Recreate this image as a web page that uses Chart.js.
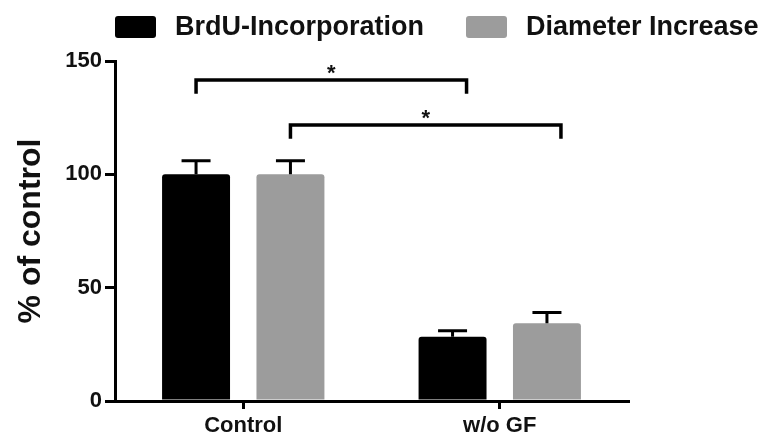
<!DOCTYPE html>
<html>
<head>
<meta charset="utf-8">
<title>BrdU / Diameter</title>
<script src="https://cdn.jsdelivr.net/npm/chart.js@4.4.1/dist/chart.umd.min.js"></script>
<style>
  body { margin: 0; background: #fff; }
  canvas { display: block; }
</style>
</head>
<body>
<canvas id="chart" width="768" height="439"></canvas>
<script>
// values
const categories = ['Control', 'w/o GF'];
const seriesNames = ['BrdU-Incorporation', 'Diameter Increase'];
const brduValues = [100, 28.4];
const brduErrors = [6, 2.6];
const diameterValues = [100, 34.3];
const diameterErrors = [6, 4.7];
const yTicks = [0, 50, 100, 150];
// significance brackets: [dataset, category] -> [dataset, category], height, label
const brackets = [
    { from: [0, 0], to: [0, 1], y: 141.6, drop: 5.3, label: '*' },
    { from: [1, 0], to: [1, 1], y: 121.8, drop: 5.3, label: '*' }
];

const FONT = "'Liberation Sans', Arial, sans-serif";
const TEXT = '#111';

// error bars (upper only) on top of each bar
const errorBars = {
    id: 'errorBars',
    afterDatasetsDraw(chart) {
        const ctx = chart.ctx;
        const y = chart.scales.y;
        ctx.save();
        ctx.strokeStyle = '#000';
        ctx.lineWidth = 3;
        chart.data.datasets.forEach((ds, i) => {
            const meta = chart.getDatasetMeta(i);
            meta.data.forEach((bar, j) => {
                const top = y.getPixelForValue(ds.data[j]);
                const end = y.getPixelForValue(ds.data[j] + ds.errors[j]);
                const half = 14.5;
                ctx.beginPath();
                ctx.moveTo(bar.x, top);
                ctx.lineTo(bar.x, end);
                ctx.moveTo(bar.x - half, end);
                ctx.lineTo(bar.x + half, end);
                ctx.stroke();
            });
        });
        ctx.restore();
    }
};

// significance brackets with asterisk
const sigBrackets = {
    id: 'sigBrackets',
    afterDraw(chart) {
        const ctx = chart.ctx;
        const y = chart.scales.y;
        ctx.save();
        ctx.strokeStyle = '#000';
        ctx.lineWidth = 3.5;
        ctx.lineCap = 'square';
        brackets.forEach(b => {
            const x1 = chart.getDatasetMeta(b.from[0]).data[b.from[1]].x;
            const x2 = chart.getDatasetMeta(b.to[0]).data[b.to[1]].x + 14;
            const yl = y.getPixelForValue(b.y);
            const yd = y.getPixelForValue(b.y - b.drop);
            ctx.beginPath();
            ctx.moveTo(x1, yd);
            ctx.lineTo(x1, yl);
            ctx.lineTo(x2, yl);
            ctx.lineTo(x2, yd);
            ctx.stroke();
            ctx.fillStyle = TEXT;
            ctx.font = 'bold 22px ' + FONT;
            ctx.textAlign = 'center';
            ctx.textBaseline = 'middle';
            ctx.fillText(b.label, (x1 + x2) / 2, yl - 6);
        });
        ctx.restore();
    }
};

// legend drawn above the plot
const topLegend = {
    id: 'topLegend',
    afterDraw(chart) {
        const ctx = chart.ctx;
        const boxes = [115, 466];
        ctx.save();
        ctx.font = 'bold 27px ' + FONT;
        ctx.textBaseline = 'middle';
        ctx.textAlign = 'left';
        chart.data.datasets.forEach((ds, i) => {
            const bx = boxes[i];
            ctx.fillStyle = ds.backgroundColor;
            ctx.beginPath();
            ctx.roundRect(bx, 16, 41, 22, 3);
            ctx.fill();
            ctx.fillStyle = TEXT;
            ctx.fillText(ds.label, bx + 60, 27.5);
        });
        ctx.restore();
    }
};

new Chart(document.getElementById('chart'), {
    type: 'bar',
    data: {
        labels: categories,
        datasets: [{
            label: seriesNames[0],
            data: brduValues,
            errors: brduErrors,
            backgroundColor: '#000000'
        }, {
            label: seriesNames[1],
            data: diameterValues,
            errors: diameterErrors,
            backgroundColor: '#9c9c9c'
        }]
    },
    options: {
        responsive: false,
        animation: false,
        layout: { padding: { top: 61, right: 140, bottom: 0, left: 0 } },
        datasets: {
            bar: {
                categoryPercentage: 0.736,
                barPercentage: 0.72,
                borderRadius: 3
            }
        },
        plugins: {
            legend: { display: false },
            tooltip: { enabled: false }
        },
        scales: {
            x: {
                afterFit(scale) { scale.height = 38; },
                border: { display: true, color: '#000', width: 3 },
                grid: {
                    drawOnChartArea: false,
                    offset: false,
                    tickLength: 8,
                    lineWidth: 3,
                    color: '#000'
                },
                ticks: {
                    color: TEXT,
                    padding: 4,
                    maxRotation: 0,
                    font: { family: FONT, size: 22, weight: 'bold' }
                }
            },
            y: {
                min: 0,
                max: 150,
                afterFit(scale) { scale.width = 115; },
                afterBuildTicks(scale) {
                    scale.ticks = yTicks.map(v => ({ value: v }));
                },
                border: { display: true, color: '#000', width: 3 },
                grid: {
                    drawOnChartArea: false,
                    tickLength: 10,
                    lineWidth: 3,
                    color: '#000'
                },
                ticks: {
                    color: TEXT,
                    padding: 3,
                    font: { family: FONT, size: 22, weight: 'bold' }
                },
                title: {
                    display: true,
                    text: '% of control',
                    color: TEXT,
                    padding: { top: 12, bottom: 0 },
                    font: { family: FONT, size: 32, weight: 'bold' }
                }
            }
        }
    },
    plugins: [errorBars, sigBrackets, topLegend]
});
</script>
</body>
</html>
